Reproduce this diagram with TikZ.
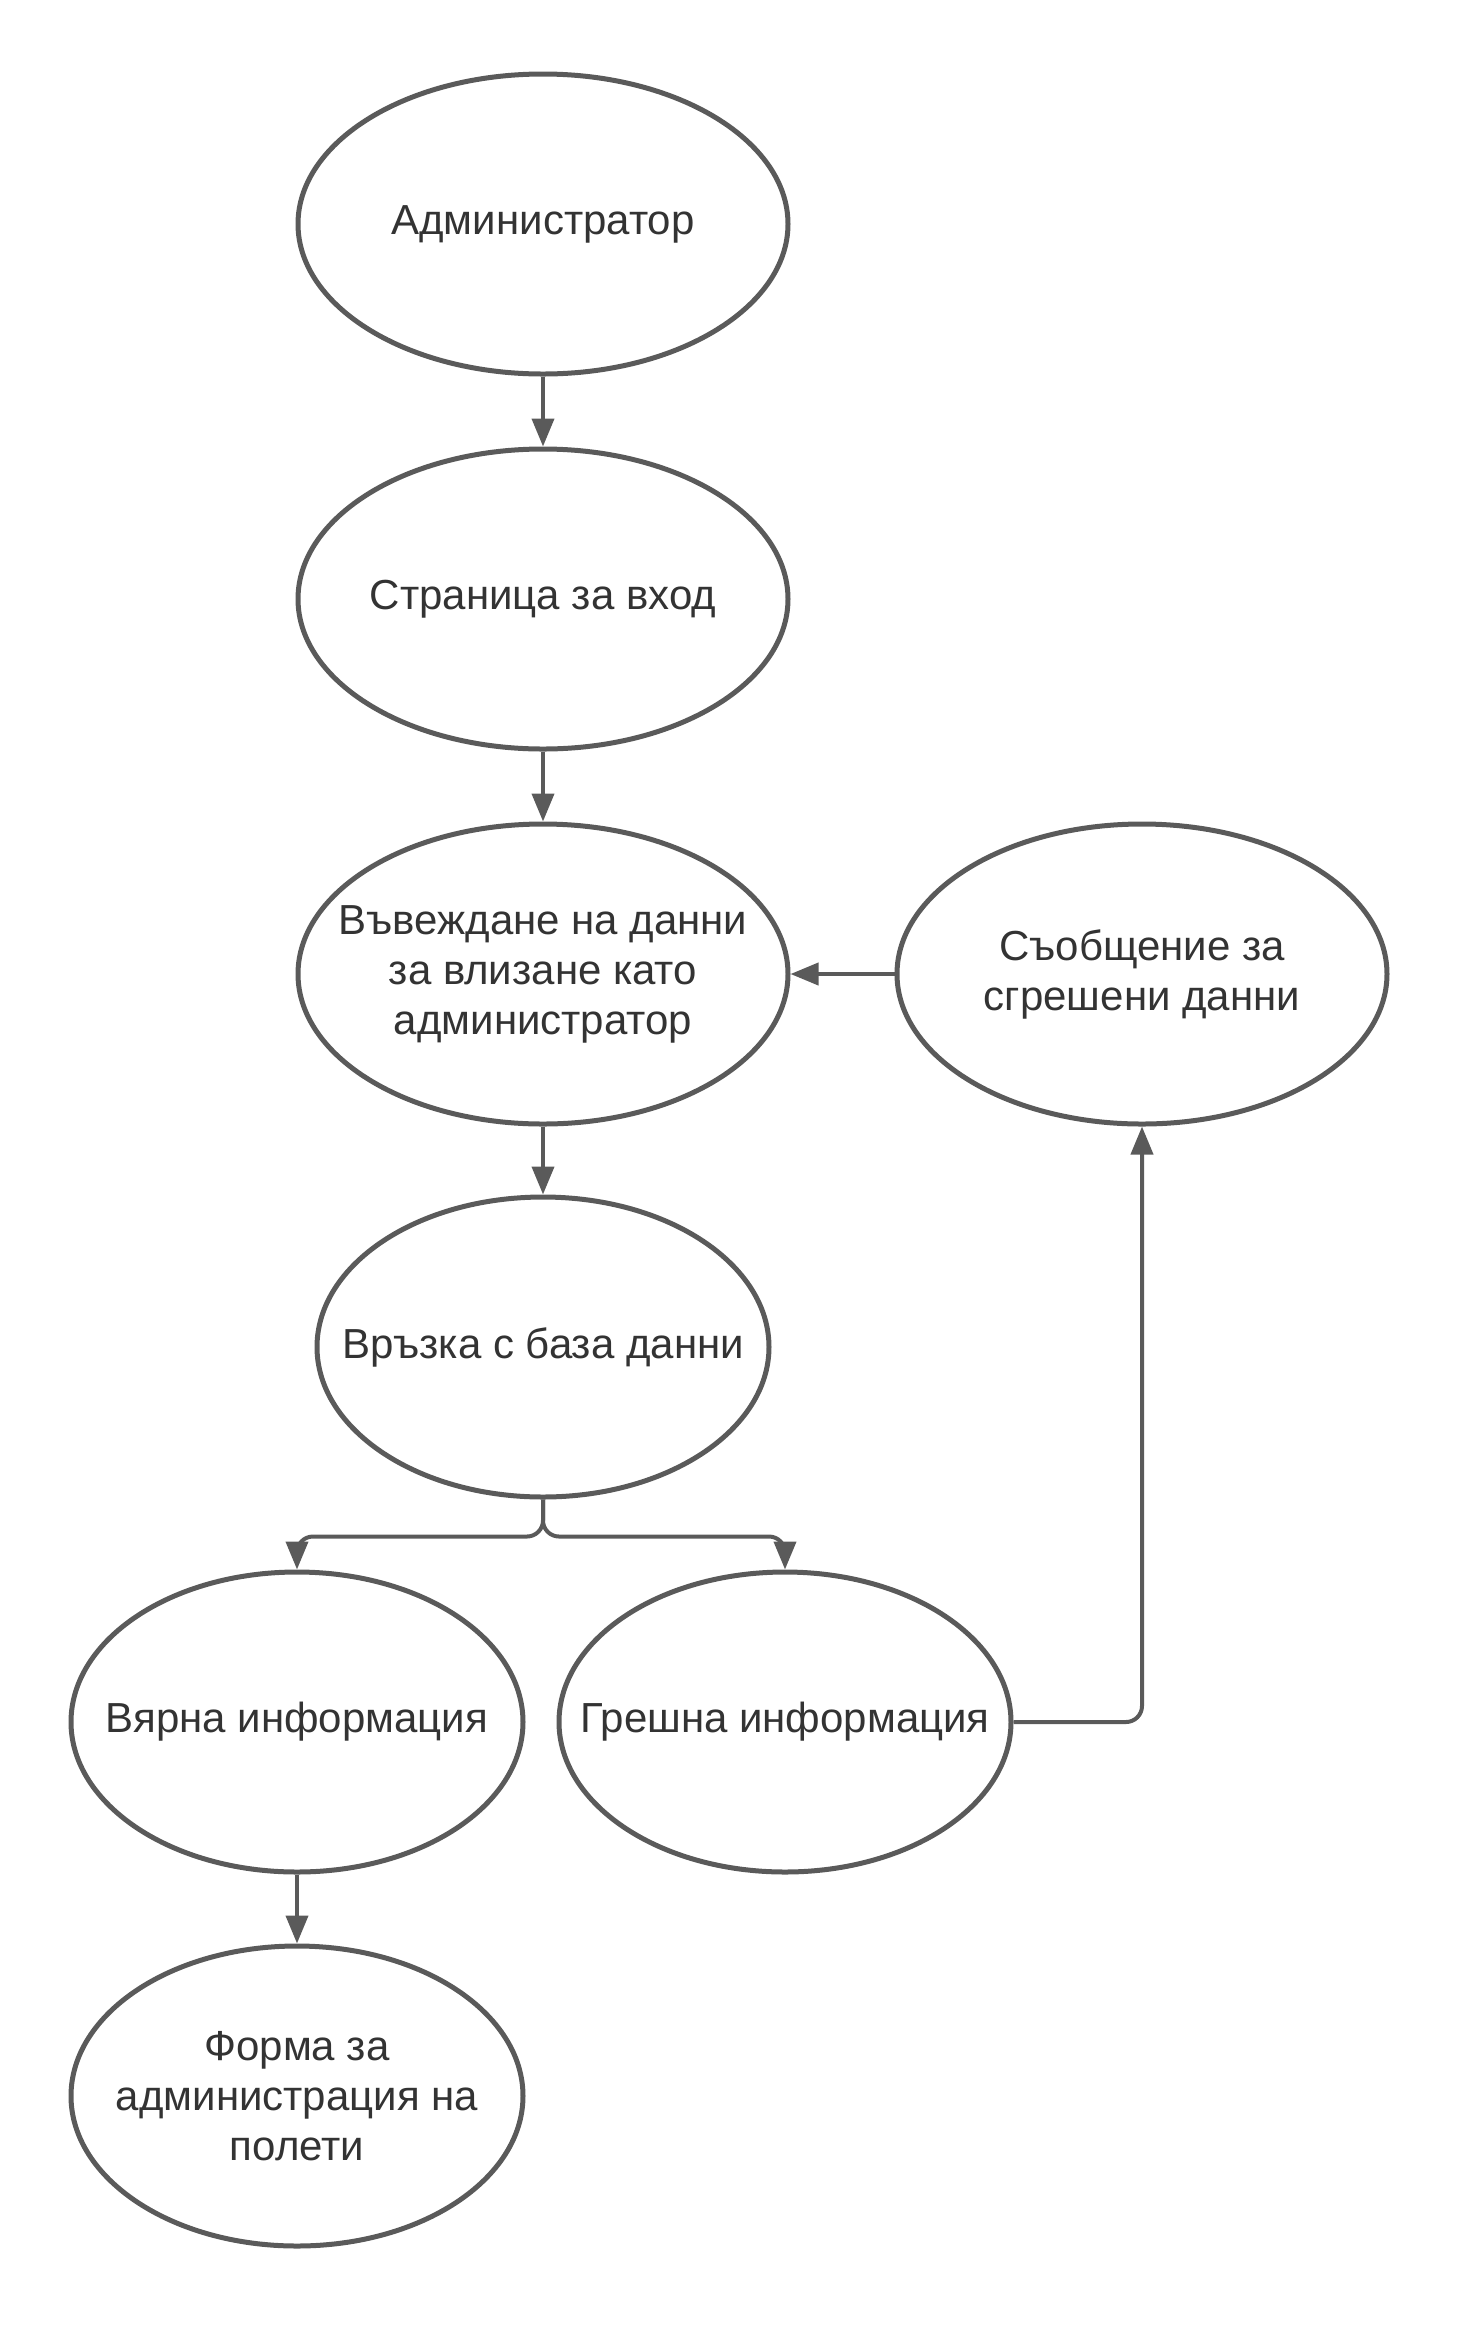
\documentclass[tikz,border=0pt]{standalone}
\usepackage{fontspec}
\setmainfont{Liberation Sans}
\usepackage{xcolor}
\usepackage{tikz}
\usetikzlibrary{arrows.meta}
\usetikzlibrary{shapes.geometric}
\definecolor{linegray}{RGB}{90,90,90}
\definecolor{textgray}{RGB}{51,51,51}

\begin{document}
\begin{tikzpicture}[x=0.5pt,y=-0.5pt,
    state/.style={ellipse, draw=linegray, line width=2.5pt, minimum width=245pt, minimum height=150pt, inner sep=-25pt, align=center, text=textgray, font=\fontsize{21}{25}\selectfont},
    small/.style={state, minimum width=226pt},
    arr/.style={draw=linegray, line width=2pt, -{Triangle[length=14pt,width=11pt]}}]
\useasboundingbox (0,0) rectangle (1463,2325);

\node[state] (admin) at (543,224) {Администратор};
\node[state] (login) at (543,599) {Страница за вход};
\node[state] (input) at (543,974) {Въвеждане на данни\\за влизане като\\администратор};
\node[state] (msg) at (1142,974) {Съобщение за\\сгрешени данни};
\node[small] (db) at (543,1347) {Връзка с база данни};
\node[small] (valid) at (297,1722) {Вярна информация};
\node[small] (wrong) at (785,1722) {Грешна информация};
\node[small] (form) at (297,2096) {Форма за\\администрация на\\полети};

\draw[arr] (admin) -- (login);
\draw[arr] (login) -- (input);
\draw[arr] (input) -- (db);
\draw[arr] (msg) -- (input);
\draw[arr] (valid) -- (form);

\draw[arr, rounded corners=8pt] (db.south) -- ++(0,37) -| (valid.north);
\draw[arr, rounded corners=8pt] (db.south) -- ++(0,37) -| (wrong.north);
\draw[arr, rounded corners=8pt] (wrong.east) -| (msg.south);

\end{tikzpicture}
\end{document}
